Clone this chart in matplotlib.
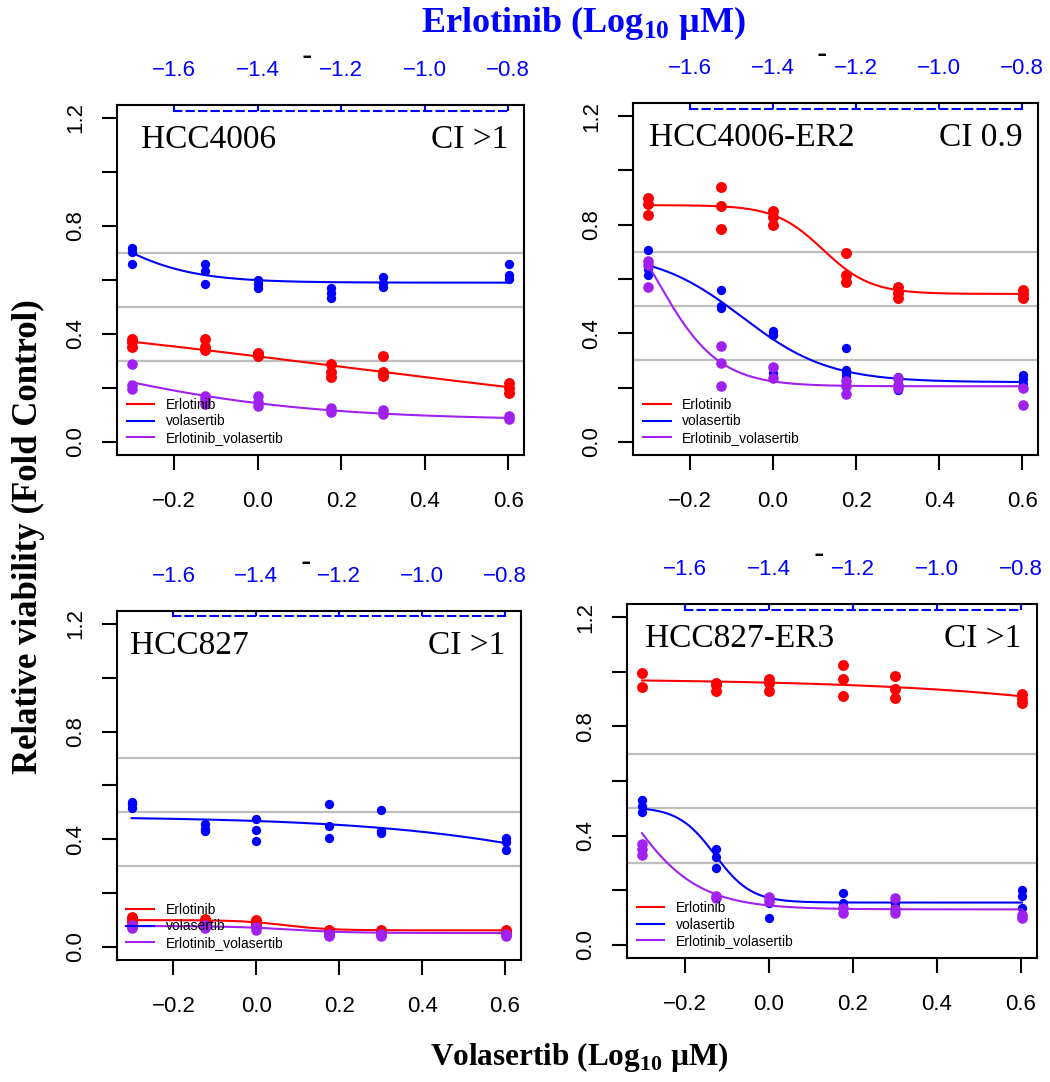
import numpy as np
import matplotlib
matplotlib.use("Agg")
import matplotlib.pyplot as plt

plt.rcParams['font.family'] = ['Liberation Sans', 'DejaVu Sans']
plt.rcParams['mathtext.fontset'] = 'custom'
plt.rcParams['mathtext.bf'] = 'Liberation Serif:bold'
plt.rcParams['mathtext.rm'] = 'Liberation Serif:bold'

## DATA ##
# log10 volasertib dose (uM); erlotinib dose is 1.4 log units lower
log_dose = [-0.301, -0.125, 0.0, 0.176, 0.301, 0.602]
top_ticks = [-1.6, -1.4, -1.2, -1.0, -0.8]
top_labels = ['\u22121.6', '\u22121.4', '\u22121.2', '\u22121.0', '\u22120.8']
bottom_ticks = [-0.2, 0.0, 0.2, 0.4, 0.6]
bottom_labels = ['\u22120.2', '0.0', '0.2', '0.4', '0.6']
erl_offset = -1.4

panel_names = ['HCC4006', 'HCC4006-ER2', 'HCC827', 'HCC827-ER3']
ci_labels = ['CI >1', 'CI 0.9', 'CI >1', 'CI >1']
series_names = ['Erlotinib', 'volasertib', 'Erlotinib_volasertib']

# replicate viabilities per dose
hcc4006_erl = [[0.38, 0.37, 0.35], [0.38, 0.35, 0.34], [0.33, 0.325, 0.32],
               [0.29, 0.26, 0.24], [0.32, 0.26, 0.245], [0.22, 0.20, 0.18]]
hcc4006_vol = [[0.72, 0.705, 0.66], [0.66, 0.635, 0.585], [0.60, 0.585, 0.57],
               [0.57, 0.55, 0.535], [0.61, 0.59, 0.575], [0.66, 0.62, 0.605]]
hcc4006_cmb = [[0.29, 0.21, 0.195], [0.17, 0.16, 0.14], [0.17, 0.15, 0.135],
               [0.125, 0.11], [0.12, 0.105], [0.095, 0.085]]

er2_erl = [[0.90, 0.875, 0.835], [0.94, 0.87, 0.785], [0.85, 0.83, 0.80],
           [0.695, 0.615, 0.59], [0.57, 0.55, 0.53], [0.56, 0.545, 0.53]]
er2_vol = [[0.705, 0.635, 0.615], [0.56, 0.50, 0.495], [0.41, 0.395, 0.255],
           [0.345, 0.265, 0.25, 0.24], [0.24, 0.23, 0.19], [0.245, 0.23, 0.215, 0.20]]
er2_cmb = [[0.665, 0.65, 0.57], [0.355, 0.29, 0.205], [0.275, 0.235],
           [0.225, 0.205, 0.175], [0.235, 0.21, 0.20], [0.20, 0.135]]

hcc827_erl = [[0.11, 0.10, 0.09], [0.105, 0.095, 0.09], [0.10, 0.09, 0.08],
              [0.065, 0.06, 0.055], [0.065, 0.06, 0.055], [0.065, 0.06, 0.055]]
hcc827_vol = [[0.54, 0.53, 0.515], [0.455, 0.44, 0.43], [0.475, 0.435, 0.395],
              [0.53, 0.45, 0.405], [0.51, 0.43, 0.425], [0.405, 0.39, 0.36]]
hcc827_cmb = [[0.08, 0.075, 0.07], [0.08, 0.075, 0.07], [0.075, 0.065],
              [0.05, 0.045, 0.04], [0.05, 0.045, 0.04], [0.05, 0.045, 0.04]]

er3_erl = [[0.995, 0.945], [0.96, 0.95, 0.93], [0.975, 0.96, 0.93],
           [1.025, 0.975, 0.91], [0.985, 0.935, 0.905], [0.92, 0.90, 0.885]]
er3_vol = [[0.53, 0.51, 0.485], [0.35, 0.32, 0.28], [0.165, 0.155, 0.10],
           [0.19, 0.155, 0.14], [0.155, 0.14, 0.125], [0.20, 0.18, 0.135]]
er3_cmb = [[0.37, 0.35, 0.33], [0.18, 0.17], [0.175, 0.16],
           [0.135, 0.115], [0.17, 0.13, 0.115], [0.11, 0.10]]

# fitted curve parameters (bottom, top, log10 EC50, hill)
hcc4006_fit = [(0.0, 0.55, 0.22, 0.61), (0.59, 1.0, -0.409, 4.0), (0.08, 0.5, -0.498, 1.5)]
er2_fit = [(0.545, 0.872, 0.12, 7.5), (0.22, 0.70, -0.0745, 4.15), (0.205, 1.0, -0.282, 5.8)]
hcc827_fit = [(0.062, 0.100, 0.07, 8.0), (0.0, 0.485, 1.02, 1.41), (0.052, 0.078, 0.08, 6.0)]
er3_fit = [(0.0, 0.975, 1.644, 1.1), (0.155, 0.505, -0.128, 10.0), (0.13, 1.0, -0.369, 4.8)]

panel_data = [[hcc4006_erl, hcc4006_vol, hcc4006_cmb],
              [er2_erl, er2_vol, er2_cmb],
              [hcc827_erl, hcc827_vol, hcc827_cmb],
              [er3_erl, er3_vol, er3_cmb]]
panel_fits = [hcc4006_fit, er2_fit, hcc827_fit, er3_fit]

colors = ['#FF0000', '#0000FF', '#A020F0']
dot_sizes = [62, 45, 58]
ref_lines = [0.3, 0.5, 0.7]

# axes boxes in figure fraction
boxes = [[0.1114, 0.5795, 0.3876, 0.3235],
         [0.6029, 0.5795, 0.3857, 0.3253],
         [0.1111, 0.1128, 0.3848, 0.3226],
         [0.5971, 0.1146, 0.3905, 0.3272]]
title_x = [-0.28, -0.298, -0.306, -0.295]


def ll4(x, c, d, e, h):
    return c + (d - c) / (1 + 10 ** (h * (x - e)))


fig = plt.figure(figsize=(10.5, 10.82), dpi=100)

for k in range(4):
    ax = fig.add_axes(boxes[k])
    for yv in ref_lines:
        ax.axhline(yv, color='#BEBEBE', lw=1.6, zorder=1)

    xs = np.linspace(log_dose[0], log_dose[-1], 200)
    for s in range(3):
        reps = panel_data[k][s]
        px = [log_dose[i] for i in range(len(reps)) for _ in reps[i]]
        py = [v for r in reps for v in r]
        ax.scatter(px, py, s=dot_sizes[s], color=colors[s], lw=0, zorder=3 + s)
        ax.plot(xs, ll4(xs, *panel_fits[k][s]), color=colors[s], lw=1.5,
                zorder=3 + s, label=series_names[s])

    ax.set_xlim(-0.337, 0.638)
    ax.set_ylim(-0.048, 1.248)
    ax.set_xticks(bottom_ticks)
    ax.set_xticklabels(bottom_labels)
    yt = [0.0, 0.2, 0.4, 0.6, 0.8, 1.0, 1.2]
    ax.set_yticks(yt)
    ax.set_yticklabels(['0.0', '', '0.4', '', '0.8', '', '1.2'], rotation=90, va='center')
    ax.tick_params(axis='both', length=11, width=1.5, labelsize=16, direction='out')
    ax.tick_params(axis='x', pad=15)
    ax.tick_params(axis='y', pad=11)
    for sp in ax.spines.values():
        sp.set_linewidth(1.5)

    # top erlotinib axis, dashed and sitting just inside the box
    sec = ax.secondary_xaxis(0.984, functions=(lambda x: x + erl_offset,
                                               lambda x: x - erl_offset))
    sec.set_xticks(top_ticks)
    sec.set_xticklabels(top_labels)
    sec.spines['top'].set_bounds(top_ticks[0], top_ticks[-1])
    sec.spines['top'].set_linestyle((0, (3.5, 2.5)))
    sec.spines['top'].set_color('#0000FF')
    sec.spines['top'].set_linewidth(1.5)
    sec.tick_params(axis='x', colors='#0000FF', length=4, width=1.5,
                    labelsize=16, pad=17.5)
    # stray black mark next to the -1.2 label
    ax.text(0.118, 1.112, '\u02c9', transform=ax.get_xaxis_transform(),
            fontsize=18, weight='bold', ha='center', va='center', color='black')

    ax.text(title_x[k], 1.12, panel_names[k], family='Liberation Serif',
            fontsize=24, ha='left', va='center')
    ax.text(0.6, 1.12, ci_labels[k], family='Liberation Serif',
            fontsize=24, ha='right', va='center')

    ax.legend(loc='lower left', frameon=False, fontsize=10, handlelength=2.0,
              handletextpad=0.85, labelspacing=0.2, borderaxespad=0.3,
              borderpad=0.4)

fig.text(0.556, 0.979, r'Erlotinib (Log$_\mathbf{10}$ µM)', color='#0000FF',
         family='Liberation Serif', weight='bold', fontsize=26, ha='center', va='center')
fig.text(0.552, 0.023, r'Volasertib (Log$_\mathbf{10}$ µM)', color='black',
         family='Liberation Serif', weight='bold', fontsize=22.5, ha='center', va='center')
fig.text(0.027, 0.504, 'Relative viability (Fold Control)', rotation=90,
         family='Liberation Serif', weight='bold', fontsize=25, ha='center', va='center')

fig.savefig('out.png', dpi=100)
